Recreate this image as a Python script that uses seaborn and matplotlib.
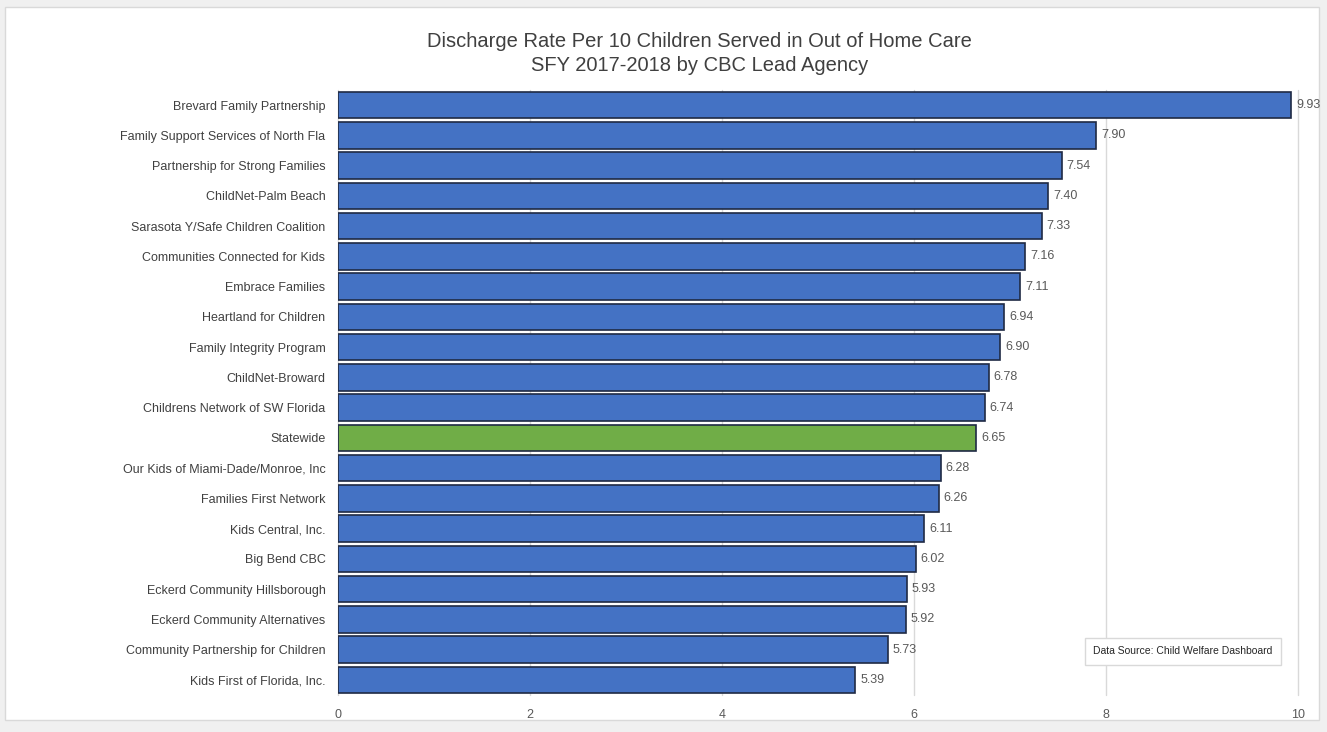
import matplotlib.pyplot as plt
import matplotlib.patches as mpatches
import pandas as pd
import seaborn as sns

agencies = [
    "Brevard Family Partnership",
    "Family Support Services of North Fla",
    "Partnership for Strong Families",
    "ChildNet-Palm Beach",
    "Sarasota Y/Safe Children Coalition",
    "Communities Connected for Kids",
    "Embrace Families",
    "Heartland for Children",
    "Family Integrity Program",
    "ChildNet-Broward",
    "Childrens Network of SW Florida",
    "Statewide",
    "Our Kids of Miami-Dade/Monroe, Inc",
    "Families First Network",
    "Kids Central, Inc.",
    "Big Bend CBC",
    "Eckerd Community Hillsborough",
    "Eckerd Community Alternatives",
    "Community Partnership for Children",
    "Kids First of Florida, Inc.",
]
rates = [9.93, 7.90, 7.54, 7.40, 7.33, 7.16, 7.11, 6.94, 6.90, 6.78,
         6.74, 6.65, 6.28, 6.26, 6.11, 6.02, 5.93, 5.92, 5.73, 5.39]
x_ticks = [0, 2, 4, 6, 8, 10]

BLUE = "#4472C4"
GREEN = "#70AD47"

sns.set_style("white")
plt.rcParams["font.family"] = ["Liberation Sans", "DejaVu Sans"]

df = pd.DataFrame({"agency": agencies, "rate": rates})
palette = {a: (GREEN if a == "Statewide" else BLUE) for a in agencies}

fig = plt.figure(figsize=(13.27, 7.32), dpi=100)
fig.patch.set_facecolor("#f0f0f0")
# white panel with light frame
fig.add_artist(mpatches.Rectangle((0.004, 0.016), 0.99, 0.975,
                                  transform=fig.transFigure,
                                  facecolor="white", edgecolor="#d9d9d9",
                                  lw=1, zorder=-1))

ax = fig.add_axes([0.2547, 0.0505, 0.7233, 0.8265])
ax.set_axisbelow(True)
ax.xaxis.grid(True, color="#d9d9d9", lw=1)
sns.barplot(data=df, y="agency", x="rate", hue="agency", palette=palette,
            legend=False, width=0.88, saturation=1, edgecolor="#1f2a44",
            linewidth=1.2, ax=ax, zorder=3)

ax.set_xlim(0, 10)
ax.set_xticks(x_ticks)
ax.set_xticklabels([str(t) for t in x_ticks])
for gl in ax.xaxis.get_gridlines():
    gl.set_clip_on(False)
ax.set_xlabel("")
ax.set_ylabel("")
ax.set_facecolor("white")
for side in ["top", "right", "bottom", "left"]:
    ax.spines[side].set_visible(False)
ax.tick_params(axis="y", length=0, pad=9, labelsize=9, labelcolor="#404040")
ax.tick_params(axis="x", length=0, pad=10, labelsize=9, labelcolor="#595959")

for i, v in enumerate(rates):
    ax.text(v + 0.05, i, f"{v:.2f}", va="center", ha="left",
            fontsize=9, color="#595959", zorder=4)

fig.text(0.527, 0.927, "Discharge Rate Per 10 Children Served in Out of Home Care\n"
         "SFY 2017-2018 by CBC Lead Agency",
         ha="center", va="center", fontsize=14.5, color="#404040",
         linespacing=1.3)

ax.text(0.88, 0.072, "Data Source: Child Welfare Dashboard",
        transform=ax.transAxes, ha="center", va="center", fontsize=7.5,
        color="#262626", zorder=5,
        bbox=dict(boxstyle="square,pad=0.8", facecolor="white",
                  edgecolor="#d9d9d9", lw=1))

fig.savefig("out.png", dpi=100)
